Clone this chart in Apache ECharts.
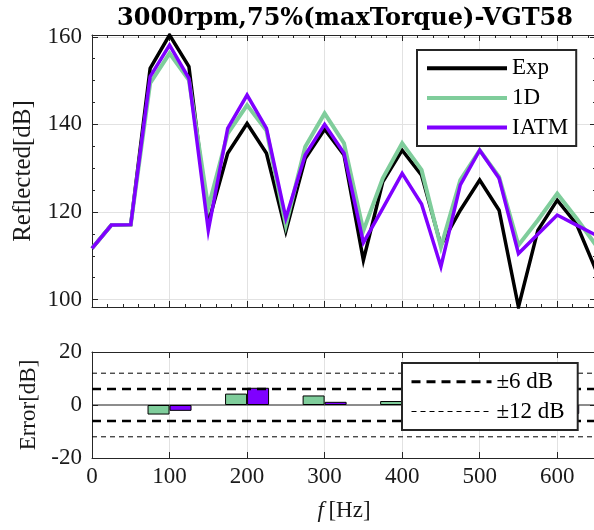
<!DOCTYPE html>
<html>
<head>
<meta charset="utf-8">
<script src="https://cdn.jsdelivr.net/npm/echarts@6/dist/echarts.min.js"></script>
<style>
  html, body { margin: 0; padding: 0; background: #fff; }
  #chart { width: 594px; height: 530px; }
</style>
</head>
<body>
<div id="chart"></div>
<script>
// ---------- data ----------
const titleText = '3000rpm,75%(maxTorque)-VGT58';
const freq = [0, 25, 50, 75, 100, 125, 150, 175, 200, 225, 250, 275, 300, 325, 350,
              375, 400, 425, 450, 475, 500, 525, 550, 575, 600, 625, 650];
const expData = [111.7, 117.0, 117.1, 152.8, 160.4, 153.2, 117.5, 133.4, 140.2, 133.4, 115.6, 132.2, 138.9, 133.0,
                 109.0, 126.9, 134.1, 128.4, 112.4, 120.4, 127.3, 120.4, 98.3, 115.8, 122.7, 117.2, 106.7];
const oneDData = [111.7, 117.0, 117.1, 149.4, 156.2, 150.1, 121.0, 137.9, 144.4, 138.6, 117.0, 134.9, 142.5, 135.7,
                  115.7, 127.7, 135.7, 129.6, 112.0, 127.3, 134.1, 128.0, 112.4, 118.1, 124.2, 118.5, 112.4];
const iatmData = [111.7, 117.0, 117.1, 150.9, 158.1, 150.5, 115.8, 139.1, 146.7, 139.1, 118.6, 133.0, 140.0, 133.4,
                  113.0, 120.8, 128.8, 121.8, 107.5, 126.2, 134.1, 127.7, 110.5, 114.9, 119.3, 117.0, 114.7];
const barFreq = [100, 200, 300, 400, 500, 600];
const err1D = [-3.6, 4.3, 3.6, 1.5, 6.8, 1.5];
const errIATM = [-2.2, 6.5, 1.2, -5.3, 6.8, -3.4];
const band6 = [6, -6];
const band12 = [12, -12];
const xRange = [0, 650];
const yTopRange = [98.3, 160.4];
const yBotRange = [-20, 20];

// ---------- style ----------
const FONT = 'Liberation Serif';
const AX = '#262626';
const GRIDC = '#e2e2e2';
const GREEN = '#7fcd9b';
const PURPLE = '#7f00ff';

const pairs = (xs, ys) => xs.map((x, i) => [x, ys[i]]);
const isMult = (v, m) => Math.abs(v / m - Math.round(v / m)) < 1e-6;

function xAx(gi, pos, opts) {
  return Object.assign({
    gridIndex: gi, type: 'value', min: xRange[0], max: xRange[1], interval: 100, position: pos,
    axisLine: { show: true, onZero: false, lineStyle: { color: AX, width: 1 } },
    axisTick: { show: true, inside: true, length: 6, lineStyle: { color: AX, width: 1 } },
    minorTick: { show: false },
    axisLabel: { show: false },
    splitLine: { show: false }
  }, opts);
}
function yAx(gi, pos, opts) {
  return Object.assign({
    gridIndex: gi, type: 'value', position: pos,
    axisLine: { show: true, onZero: false, lineStyle: { color: AX, width: 1 } },
    axisTick: { show: true, inside: true, length: 6, lineStyle: { color: AX, width: 1 } },
    minorTick: { show: false },
    axisLabel: { show: false },
    splitLine: { show: false }
  }, opts);
}
const labelStyle = { show: true, fontFamily: FONT, fontSize: 23, color: '#1a1a1a' };

const option = {
  animation: false,
  backgroundColor: '#fff',
  title: {
    text: titleText, left: 117, top: 7, padding: 0,
    textStyle: { fontFamily: 'DejaVu Serif', fontWeight: 'bold', fontSize: 24, color: '#000' }
  },
  grid: [
    { left: 92, top: 35, width: 504, height: 272, outerBoundsMode: 'none', containLabel: false },
    { left: 92, top: 352, width: 504, height: 106, outerBoundsMode: 'none', containLabel: false }
  ],
  xAxis: [
    xAx(0, 'bottom', {
      minorTick: { show: true, splitNumber: 5, length: 3, lineStyle: { color: AX } },
      splitLine: { show: true, lineStyle: { color: GRIDC, width: 1 } }
    }),
    xAx(0, 'top', {
      minorTick: { show: true, splitNumber: 5, length: 3, lineStyle: { color: AX } }
    }),
    xAx(1, 'bottom', {
      axisLabel: Object.assign({}, labelStyle, { margin: 7,
        formatter: v => (isMult(v, 100) ? String(Math.round(v)) : '') }),
      splitLine: { show: true, lineStyle: { color: GRIDC, width: 1 } },
      name: '{it|f}\u2009[Hz]', nameLocation: 'middle', nameGap: 41,
      nameTextStyle: { fontFamily: FONT, fontSize: 23, color: '#1a1a1a',
        rich: { it: { fontFamily: FONT, fontSize: 23, fontStyle: 'italic', color: '#1a1a1a' } } }
    }),
    xAx(1, 'top', {})
  ],
  yAxis: [
    yAx(0, 'left', {
      min: yTopRange[0], max: yTopRange[1], splitNumber: 3,
      minorTick: { show: true, splitNumber: 4, length: 3, lineStyle: { color: AX } },
      axisLabel: Object.assign({}, labelStyle, { margin: 10,
        formatter: v => (isMult(v, 20) ? String(Math.round(v)) : '') }),
      splitLine: { show: true, lineStyle: { color: GRIDC, width: 1 } },
      name: 'Reflected[dB]', nameLocation: 'middle', nameGap: 56, nameRotate: 90,
      nameTextStyle: { fontFamily: FONT, fontSize: 25, color: '#1a1a1a' }
    }),
    yAx(0, 'right', {
      min: yTopRange[0], max: yTopRange[1], splitNumber: 3,
      minorTick: { show: true, splitNumber: 4, length: 3, lineStyle: { color: AX } }
    }),
    yAx(1, 'left', {
      min: yBotRange[0], max: yBotRange[1], interval: 20,
      axisLabel: Object.assign({}, labelStyle, { margin: 10 }),
      splitLine: { show: false },
      name: 'Error[dB]', nameLocation: 'middle', nameGap: 50, nameRotate: 90,
      nameTextStyle: { fontFamily: FONT, fontSize: 23, color: '#1a1a1a' }
    }),
    yAx(1, 'right', { min: yBotRange[0], max: yBotRange[1], interval: 20 })
  ],
  legend: [
    {
      left: 417, top: 50, orient: 'vertical', selectedMode: false,
      data: ['Exp', '1D', 'IATM'],
      itemWidth: 80, itemHeight: 20, itemGap: 6.7,
      padding: [6.7, 8, 7, 8],
      backgroundColor: '#fff', borderColor: AX, borderWidth: 2, borderRadius: 0,
      textStyle: { fontFamily: FONT, fontSize: 23, color: '#000', lineHeight: 20 },
      itemStyle: { opacity: 0, borderWidth: 0 },
      lineStyle: { width: 4 }
    },
    {
      left: 402, top: 363, orient: 'vertical', selectedMode: false,
      data: [{ name: '\u00b16 dB', lineStyle: { width: 3 } }, { name: '\u00b112 dB', lineStyle: { width: 1 } }],
      itemWidth: 80, itemHeight: 20, itemGap: 6.7,
      padding: [7.3, 13, 7, 8],
      backgroundColor: '#fff', borderColor: AX, borderWidth: 2, borderRadius: 0,
      itemStyle: { opacity: 0, borderWidth: 0 },
      textStyle: { fontFamily: FONT, fontSize: 23, color: '#000', lineHeight: 20 }
    }
  ],
  series: [
    { name: 'Exp', type: 'line', xAxisIndex: 0, yAxisIndex: 0, data: pairs(freq, expData),
      symbol: 'none', color: '#000', lineStyle: { color: '#000', width: 3.5, join: 'miter', miterLimit: 10 } },
    { name: '1D', type: 'line', xAxisIndex: 0, yAxisIndex: 0, data: pairs(freq, oneDData),
      symbol: 'none', color: GREEN, lineStyle: { color: GREEN, width: 4, join: 'miter', miterLimit: 10 } },
    { name: 'IATM', type: 'line', xAxisIndex: 0, yAxisIndex: 0, data: pairs(freq, iatmData),
      symbol: 'none', color: PURPLE, lineStyle: { color: PURPLE, width: 3.5, join: 'miter', miterLimit: 10 } },

    { name: 'zero', type: 'line', xAxisIndex: 2, yAxisIndex: 2, data: [[xRange[0], 0], [xRange[1], 0]],
      symbol: 'none', silent: true, z: 1, lineStyle: { color: '#1a1a1a', width: 1 } },
    { name: 'err1D', type: 'bar', xAxisIndex: 2, yAxisIndex: 2, data: pairs(barFreq, err1D),
      barWidth: 22, barGap: '0%', z: 2,
      itemStyle: { color: GREEN, borderColor: '#000', borderWidth: 1 } },
    { name: 'errIATM', type: 'bar', xAxisIndex: 2, yAxisIndex: 2, data: pairs(barFreq, errIATM),
      barWidth: 22, barGap: '0%', z: 2,
      itemStyle: { color: PURPLE, borderColor: '#000', borderWidth: 1 } },

    { name: '\u00b16 dB', type: 'line', xAxisIndex: 2, yAxisIndex: 2, data: [[xRange[0], band6[0]], [xRange[1], band6[0]]],
      symbol: 'none', silent: true, z: 3, color: '#000', lineStyle: { color: '#000', width: 2.5, type: [9, 6] } },
    { name: '\u00b16 dB', type: 'line', xAxisIndex: 2, yAxisIndex: 2, data: [[xRange[0], band6[1]], [xRange[1], band6[1]]],
      symbol: 'none', silent: true, z: 3, color: '#000', lineStyle: { color: '#000', width: 2.5, type: [9, 6] } },
    { name: '\u00b112 dB', type: 'line', xAxisIndex: 2, yAxisIndex: 2, data: [[xRange[0], band12[0]], [xRange[1], band12[0]]],
      symbol: 'none', silent: true, z: 3, color: '#000', lineStyle: { color: '#000', width: 1, type: [5, 4] } },
    { name: '\u00b112 dB', type: 'line', xAxisIndex: 2, yAxisIndex: 2, data: [[xRange[0], band12[1]], [xRange[1], band12[1]]],
      symbol: 'none', silent: true, z: 3, color: '#000', lineStyle: { color: '#000', width: 1, type: [5, 4] } }
  ]
};

const chart = echarts.init(document.getElementById('chart'), null, { renderer: 'canvas' });
chart.setOption(option);
</script>
</body>
</html>
